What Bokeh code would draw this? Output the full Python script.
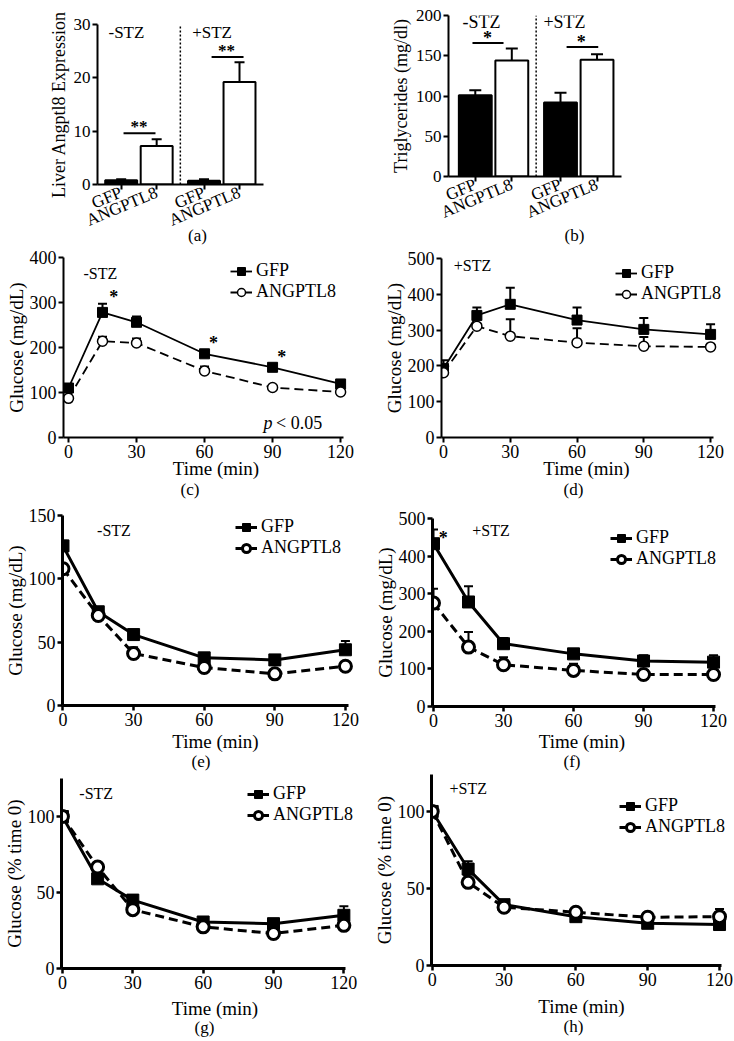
import math
from bokeh.plotting import figure
from bokeh.models import Range1d, FixedTicker, Legend, LegendItem, Title
from bokeh.layouts import column, row
from bokeh.core.properties import value
from bokeh.embed import file_html
from bokeh.resources import INLINE

FONT = "Liberation Serif"

# ---------------- data ----------------
groups = ["-STZ", "+STZ"]
treatments = ["GFP", "ANGPTL8"]

liver_expr = [0.8, 7.2, 0.7, 19.2]
liver_expr_err = [0.2, 1.3, 0.3, 3.7]
triglycerides = [101, 144, 92, 145]
triglycerides_err = [6, 15, 12, 7]

time_min = [0, 15, 30, 60, 90, 120]

gtt_nostz_gfp = [110, 278, 256, 186, 156, 119]
gtt_nostz_gfp_err = [8, 19, 13, 6, 7, 5]
gtt_nostz_ang = [87, 214, 210, 148, 111, 101]
gtt_nostz_ang_err = [5, 10, 10, 10, 5, 3]

gtt_stz_gfp = [193, 341, 372, 328, 302, 288]
gtt_stz_gfp_err = [23, 22, 46, 35, 32, 28]
gtt_stz_ang = [181, 311, 283, 265, 255, 253]
gtt_stz_ang_err = [10, 5, 47, 40, 26, 5]

itt_nostz_gfp = [126, 74, 56, 37.6, 36, 44]
itt_nostz_gfp_err = [4, 2, 2, 2, 2, 7]
itt_nostz_ang = [108, 71, 41, 30, 25, 31]
itt_nostz_ang_err = [4, 2, 5, 2, 2, 2]

itt_stz_gfp = [433, 278, 167, 140, 121, 118]
itt_stz_gfp_err = [38, 42, 15, 10, 15, 18]
itt_stz_ang = [275, 158, 111, 96, 85, 85]
itt_stz_ang_err = [38, 40, 20, 18, 5, 5]

pct_nostz_gfp = [100, 59, 45, 30.6, 29.5, 35]
pct_nostz_gfp_err = [0, 2, 2, 2, 2, 6]
pct_nostz_ang = [100, 66.7, 38.7, 27.4, 23, 28.4]
pct_nostz_ang_err = [0, 2, 2, 2, 2, 2]

pct_stz_gfp = [100, 62.6, 39.5, 31.7, 27.4, 26.6]
pct_stz_gfp_err = [0, 5, 2, 2, 2, 2]
pct_stz_ang = [100, 54, 37.8, 34.6, 31.3, 31.7]
pct_stz_ang_err = [0, 2, 2, 2, 3, 5]

time_ticks = [0, 30, 60, 90, 120]
expr_ticks = [0, 10, 20, 30]
tg_ticks = [0, 50, 100, 150, 200]
gtt_nostz_ticks = [0, 100, 200, 300, 400]
glu500_ticks = [0, 100, 200, 300, 400, 500]
itt_nostz_ticks = [0, 50, 100, 150]
pct_ticks = [0, 50, 100]

gtt_nostz_stars = [(20, 313), (64, 209), (94, 179)]
itt_stz_stars = [(4.2, 447)]


def make_fig(W, H, L, R, T, B, xr, yr):
    p = figure(width=W, height=H, x_range=Range1d(*xr), y_range=Range1d(*yr),
               output_backend="svg", toolbar_location=None,
               min_border_left=L, min_border_right=R, min_border_top=T, min_border_bottom=B)
    p.xgrid.visible = False
    p.ygrid.visible = False
    p.outline_line_color = None
    p.background_fill_color = "white"
    p.border_fill_color = "white"
    for ax in (p.xaxis[0], p.yaxis[0]):
        ax.minor_tick_line_color = None
        ax.major_tick_in = 0
        ax.major_tick_out = 5
        ax.major_label_text_font = FONT
        ax.axis_label_text_font = FONT
        ax.axis_label_text_font_style = "normal"
        ax.major_label_text_color = "black"
        ax.axis_label_text_color = "black"
        ax.axis_line_color = "black"
        ax.major_tick_line_color = "black"
        ax.major_label_standoff = 2
    return p


def add_text(p, x, y, txt, size, align="left", style="normal"):
    p.text(x=[x], y=[y], text=[txt], text_font=value(FONT), text_font_size=size,
           text_align=align, text_baseline="middle", text_color="black",
           text_font_style=style)


def caption(p, txt, offset, standoff):
    p.add_layout(Title(text=txt, align="left", offset=offset, standoff=standoff,
                       text_font=FONT, text_font_size="17px", text_font_style="normal",
                       text_color="black"), "below")


positions = [2 + 3 * m + 7 * g for g in range(len(groups)) for m in range(len(treatments))]
bar_labels = [treatments[m] for g in range(len(groups)) for m in range(len(treatments))]
bar_fill = ["black" if lab == "GFP" else "white" for lab in bar_labels]
divider = (positions[1] + positions[2]) / 2


def bar_panel(W, H, L, R, T, B, xr, xb, yr, vals, errs, yticks, cap, cap_text, cap_standoff):
    p = make_fig(W, H, L, R, T, B, xr, yr)
    p.vbar(x=positions, top=vals, width=2.7, fill_color=bar_fill, line_color="black", line_width=2)
    tops = [v + e for v, e in zip(vals, errs)]
    p.segment(x0=positions, y0=vals, x1=positions, y1=tops, line_color="black", line_width=2)
    p.scatter(x=positions, y=tops, marker="dash", size=cap, line_color="black", line_width=2)
    p.segment(x0=[divider], y0=[yr[0]], x1=[divider], y1=[yr[1]], line_color="black",
              line_width=1.5, line_dash="2 2")
    p.xaxis.ticker = FixedTicker(ticks=positions)
    p.xaxis.major_label_overrides = {x: lab for x, lab in zip(positions, bar_labels)}
    p.xaxis.major_label_orientation = 0.4
    p.xaxis.major_label_text_font_size = "17px"
    p.xaxis.bounds = xb
    p.xaxis.axis_label = cap_text
    p.xaxis.axis_label_text_font_size = "17px"
    p.xaxis.axis_label_standoff = cap_standoff
    p.yaxis.ticker = FixedTicker(ticks=yticks)
    p.yaxis.major_label_text_font_size = "17px"
    p.yaxis.axis_label_text_font_size = "18px"
    p.yaxis.axis_label_standoff = 2
    for ax in (p.xaxis[0], p.yaxis[0]):
        ax.axis_line_width = 2
        ax.major_tick_line_width = 2
    return p


# (a)  frame widened to the right so that the caption centres where the reference has it
pa = bar_panel(370, 248, 97, 73, 24, 58, (0, 16.9), (0, 14), (0, 30), liver_expr, liver_expr_err,
               expr_ticks, 10, "(a)", -15)
pa.yaxis.axis_label = "Liver Angptl8 Expression"
add_text(pa, 0.93, 28.5, "-STZ", "17px")
add_text(pa, 8.0, 28.5, "+STZ", "17px")
pa.segment(x0=[2.2, 9.64], y0=[9.6, 23.9], x1=[4.9, 12.34], y1=[9.6, 23.9], line_color="black", line_width=2)
add_text(pa, 3.5, 10.9, "**", "17px", "center", "bold")
add_text(pa, 10.9, 25.2, "**", "17px", "center", "bold")

# (b)
pb = bar_panel(363, 248, 78, 33, 15, 66, (-0.2, 20.5), (-0.2, 14), (0, 200), triglycerides,
               triglycerides_err, tg_ticks, 12, "(b)", -7)
pb.yaxis.axis_label = "Triglycerides (mg/dl)"
add_text(pb, 0.95, 192, "-STZ", "18px")
add_text(pb, 7.6, 192, "+STZ", "18px")
pb.segment(x0=[1.77, 9.5], y0=[165.7, 161], x1=[4.32, 12.1], y1=[165.7, 161], line_color="black", line_width=2)
add_text(pb, 3.0, 172.5, "*", "18px", "center", "bold")
add_text(pb, 10.7, 166.5, "*", "18px", "center", "bold")


def line_panel(W, H, L, R, T, B, xr, xb, yr, yticks, gfp, gfp_err, ang, ang_err, ylabel,
               legend_loc, thick=False, xlab_standoff=-3, ylab_standoff=0):
    p = make_fig(W, H, L, R, T, B, xr, yr)
    lw = 3 if thick else 1.8
    axw = 3 if thick else 2
    sq = 12 if thick else 10
    ci = 12 if thick else 10
    clw = 3 if thick else 1.5
    for vals, errs in ((gfp, gfp_err), (ang, ang_err)):
        tops = [v + e for v, e in zip(vals, errs)]
        p.segment(x0=time_min, y0=vals, x1=time_min, y1=tops, line_color="black", line_width=2)
        p.scatter(x=time_min, y=tops, marker="dash", size=9, line_color="black", line_width=2)
    l1 = p.line(time_min, gfp, line_color="black", line_width=lw)
    l2 = p.line(time_min, ang, line_color="black", line_width=lw, line_dash="9 5")
    s1 = p.scatter(time_min, gfp, marker="square", size=sq, fill_color="black", line_color="black")
    s2 = p.scatter(time_min, ang, marker="circle", size=ci, fill_color="white",
                   line_color="black", line_width=clw)
    leg = Legend(items=[LegendItem(label="GFP", renderers=[l1, s1]),
                        LegendItem(label="ANGPTL8", renderers=[l2, s2])],
                 location=legend_loc)
    leg.border_line_color = None
    leg.background_fill_alpha = 0
    leg.padding = 0
    leg.margin = 0
    leg.spacing = 0
    leg.glyph_height = 20
    leg.label_height = 20
    leg.glyph_width = 22
    leg.label_standoff = 4
    leg.label_text_font = FONT
    leg.label_text_font_size = "18px"
    leg.label_text_color = "black"
    p.add_layout(leg)
    p.xaxis.ticker = FixedTicker(ticks=time_ticks)
    p.yaxis.ticker = FixedTicker(ticks=yticks)
    p.xaxis.bounds = xb
    p.yaxis.bounds = yr
    p.xaxis.axis_label = "Time (min)"
    p.yaxis.axis_label = ylabel
    p.xaxis.axis_label_standoff = xlab_standoff
    p.yaxis.axis_label_standoff = ylab_standoff
    for ax in (p.xaxis[0], p.yaxis[0]):
        ax.axis_line_width = axw
        ax.major_tick_line_width = 2.5 if thick else 2
        ax.major_label_text_font_size = "18px"
        ax.axis_label_text_font_size = "19px"
    return p


# (c)
pc = line_panel(370, 252, 63, 2, 9, 63, (-2.2, 132.3), (-2.2, 121.3), (0, 400), gtt_nostz_ticks,
                gtt_nostz_gfp, gtt_nostz_gfp_err, gtt_nostz_ang, gtt_nostz_ang_err,
                "Glucose (mg/dL)", (167, 135), xlab_standoff=-3)
add_text(pc, 6.6, 364, "-STZ", "16px")
for sx, sy in gtt_nostz_stars:
    add_text(pc, sx, sy, "*", "18px", "center", "bold")
add_text(pc, 86, 32, "p", "18px", "left", "italic")
add_text(pc, 91.5, 32, "< 0.05", "18px", "left")
caption(pc, "(c)", 117, -7)

# (d)
pd_ = line_panel(363, 252, 71, 2, 10, 63, (-0.9, 129.4), (-0.9, 121.35), (0, 500), glu500_ticks,
                 gtt_stz_gfp, gtt_stz_gfp_err, gtt_stz_ang, gtt_stz_ang_err,
                 "Glucose (mg/dL)", (174, 133), xlab_standoff=-3)
add_text(pd_, 4.6, 480, "+STZ", "16px")
caption(pd_, "(d)", 122, -7)

# (e)
pe = line_panel(370, 272, 62, 2, 15, 67, (-0.2, 129.8), (-0.2, 121.1), (0, 150), itt_nostz_ticks,
                itt_nostz_gfp, itt_nostz_gfp_err, itt_nostz_ang, itt_nostz_ang_err,
                "Glucose (mg/dL)", (173, 147), thick=True, xlab_standoff=2)
add_text(pe, 14.5, 138, "-STZ", "16px")
caption(pe, "(e)", 129, -9)

# (f)
pf = line_panel(363, 272, 62, 2, 18, 66, (-0.43, 127.7), (-0.43, 120.9), (0, 500), glu500_ticks,
                itt_stz_gfp, itt_stz_gfp_err, itt_stz_ang, itt_stz_ang_err,
                "Glucose (mg/dL)", (178, 137), thick=True, xlab_standoff=1)
add_text(pf, 16.6, 468, "+STZ", "16px")
for sx, sy in itt_stz_stars:
    add_text(pf, sx, sy, "*", "18px", "center", "bold")
caption(pf, "(f)", 131, -9)

# (g)
pg = line_panel(370, 268, 57, 2, 6, 72, (-0.4, 130.5), (-0.4, 120.8), (0, 125), pct_ticks,
                pct_nostz_gfp, pct_nostz_gfp_err, pct_nostz_ang, pct_nostz_ang_err,
                "Glucose (% time 0)", (186, 143), thick=True, xlab_standoff=6)
add_text(pg, 7.2, 115, "-STZ", "16px")
caption(pg, "(g)", 133, -12)

# (h)
ph = line_panel(363, 268, 60, 2, 2, 75, (-0.3, 125.0), (-0.3, 120.8), (0, 124), pct_ticks,
                pct_stz_gfp, pct_stz_gfp_err, pct_stz_ang, pct_stz_ang_err,
                "Glucose (% time 0)", (188, 128), thick=True, xlab_standoff=7)
add_text(ph, 7.2, 114.7, "+STZ", "16px")
caption(ph, "(h)", 132, -10)

layout = column(
    row(column(pa), column(pb)),
    row(column(pc), column(pd_)),
    row(column(pe), column(pf)),
    row(column(pg), column(ph)),
)
open("out.html", "w").write(file_html(layout, INLINE))
